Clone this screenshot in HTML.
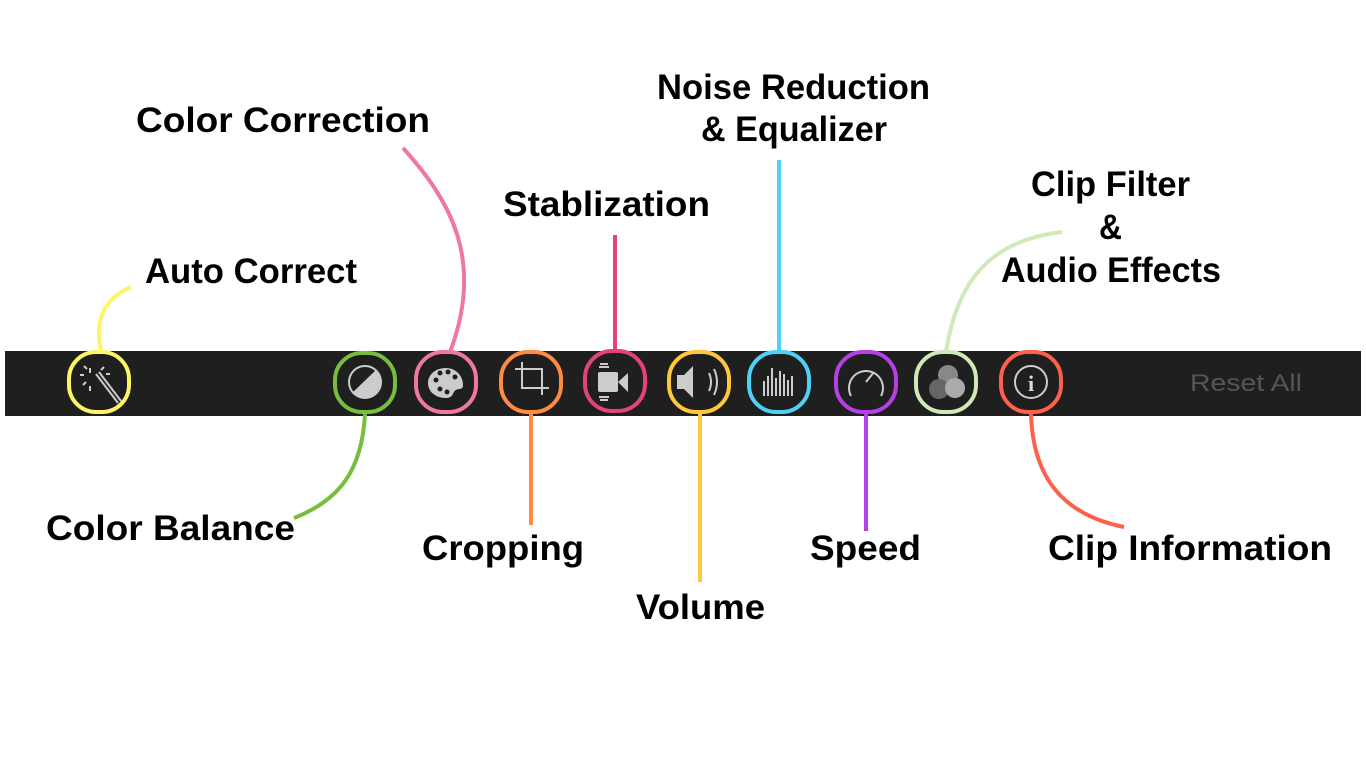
<!DOCTYPE html>
<html><head><meta charset="utf-8"><style>
html,body{margin:0;padding:0;background:#fff;width:1366px;height:768px;overflow:hidden}
svg{display:block}
text{font-family:"Liberation Sans",Arial,sans-serif;font-weight:bold;fill:#000;font-size:35px}
</style></head><body>
<svg width="1366" height="768" viewBox="0 0 1366 768">
<rect x="5" y="351" width="1356" height="65" fill="#1f1f1f"/>
<g fill="none" stroke-width="4" stroke-linecap="butt">
<path d="M131,287 C105,298 94,320 101,350" stroke="#fef565"/>
<path d="M403,148 C450,200 485,260 450,352" stroke="#ef77a2"/>
<path d="M615,235 L615,352" stroke="#e3437a"/>
<path d="M779,160 L779,352" stroke="#4fd1f5"/>
<path d="M1062,232 C995,240 958,275 946,352" stroke="#cfe9b8"/>
<path d="M365,414 C362,470 340,500 294,518" stroke="#78bd3e"/>
<path d="M531,414 L531,525" stroke="#ff8b42"/>
<path d="M700,414 L700,582" stroke="#ffc73c"/>
<path d="M866,414 L866,531" stroke="#b63fe8"/>
<path d="M1031,414 C1033,480 1065,515 1124,527" stroke="#ff5f4d"/>
</g>
<g fill="none" stroke-width="4">
<rect x="69" y="352" width="60" height="60" rx="27" stroke="#fef565"/>
<rect x="335" y="353" width="60" height="59" rx="27" stroke="#78bd3e"/>
<rect x="416" y="352" width="60" height="60" rx="27" stroke="#ef77a2"/>
<rect x="501" y="352" width="60" height="60" rx="27" stroke="#ff8b42"/>
<rect x="585" y="351" width="60" height="60" rx="27" stroke="#e3437a"/>
<rect x="669" y="352" width="60" height="60" rx="27" stroke="#ffc73c"/>
<rect x="749" y="352" width="60" height="60" rx="27" stroke="#4fd1f5"/>
<rect x="836" y="352" width="60" height="60" rx="27" stroke="#b63fe8"/>
<rect x="916" y="352" width="60" height="60" rx="27" stroke="#cfe9b8"/>
<rect x="1001" y="352" width="60" height="60" rx="27" stroke="#ff5f4d"/>
</g>
<g stroke="#ccc" stroke-width="2" fill="none">
<path d="M96,374 L118,403 M99,372 L121,401"/>
<path d="M90,368v5 M80,375h4 M83,385l3,-3 M84,366l3,3 M90,386v5 M106,374h4 M104,367l-3,3"/>
<circle cx="365" cy="382" r="16"/>
<path d="M515,369 H542 V395 M522,362 V388 H549" />
<path d="M600,364 h8 M600,400 h8 M599,367 h10 M599,397 h10"/>
<path d="M709,373 q4,9 0,18 M714,369 q6,13 0,26"/>
<rect x="1015" y="366" width="32" height="32" rx="16"/>
<path d="M851,396 a17,17 0 1 1 30,0"/>
<path d="M866,382 l8,-10"/>
</g>
<path d="M352,393 L376,370 A15,15 0 1 1 352,393Z" fill="#ccc"/>
<path d="M446,368 c-12,0 -18,8 -18,15 c0,9 8,15 18,15 c8,0 6,-6 10,-8 c4,-2 7,0 7,-5 c0,-10 -8,-17 -17,-17z" fill="#ccc"/>
<g fill="#1f1f1f"><circle cx="436" cy="380" r="2.5"/><circle cx="440" cy="373" r="2.5"/><circle cx="448" cy="372" r="2.5"/><circle cx="455" cy="377" r="2.5"/><circle cx="440" cy="389" r="2.5"/><circle cx="447" cy="392" r="2.5"/></g>
<rect x="598" y="372" width="20" height="20" rx="2" fill="#ccc"/>
<path d="M618,382 L628,373 V392 Z" fill="#ccc"/>
<path d="M677,375 h7 l9,-9 v32 l-9,-9 h-7 z" fill="#ccc"/>
<g fill="#ccc"><rect x="763" y="381" width="2" height="15"/><rect x="767" y="376" width="2" height="20"/><rect x="771" y="368" width="2" height="28"/><rect x="775" y="378" width="2" height="18"/><rect x="779" y="371" width="2" height="25"/><rect x="783" y="374" width="2" height="22"/><rect x="787" y="380" width="2" height="16"/><rect x="791" y="376" width="2" height="20"/></g>
<circle cx="948" cy="375" r="10" fill="#888"/>
<circle cx="939" cy="389" r="10" fill="#666"/>
<circle cx="955" cy="388" r="10" fill="#aaa"/>
<text x="1031" y="391" text-anchor="middle" style="font-family:'Liberation Serif',serif;font-size:22px;fill:#ddd">i</text>
<text x="1190" y="391" textLength="112" lengthAdjust="spacingAndGlyphs" style="font-size:24px;fill:#555;font-weight:normal">Reset All</text>
<g>
<text x="136" y="132" textLength="294" lengthAdjust="spacingAndGlyphs">Color Correction</text>
<text x="657" y="99" textLength="273" lengthAdjust="spacingAndGlyphs">Noise Reduction</text>
<text x="701" y="141" textLength="186" lengthAdjust="spacingAndGlyphs">&amp; Equalizer</text>
<text x="503" y="216" textLength="207" lengthAdjust="spacingAndGlyphs">Stablization</text>
<text x="1031" y="196" textLength="159" lengthAdjust="spacingAndGlyphs">Clip Filter</text>
<text x="1099" y="239" textLength="23" lengthAdjust="spacingAndGlyphs">&amp;</text>
<text x="1001" y="282" textLength="220" lengthAdjust="spacingAndGlyphs">Audio Effects</text>
<text x="145" y="283" textLength="212" lengthAdjust="spacingAndGlyphs">Auto Correct</text>
<text x="46" y="540" textLength="249" lengthAdjust="spacingAndGlyphs">Color Balance</text>
<text x="422" y="560" textLength="162" lengthAdjust="spacingAndGlyphs">Cropping</text>
<text x="636" y="619" textLength="129" lengthAdjust="spacingAndGlyphs">Volume</text>
<text x="810" y="560" textLength="111" lengthAdjust="spacingAndGlyphs">Speed</text>
<text x="1048" y="560" textLength="284" lengthAdjust="spacingAndGlyphs">Clip Information</text>
</g>
</svg>
</body></html>
